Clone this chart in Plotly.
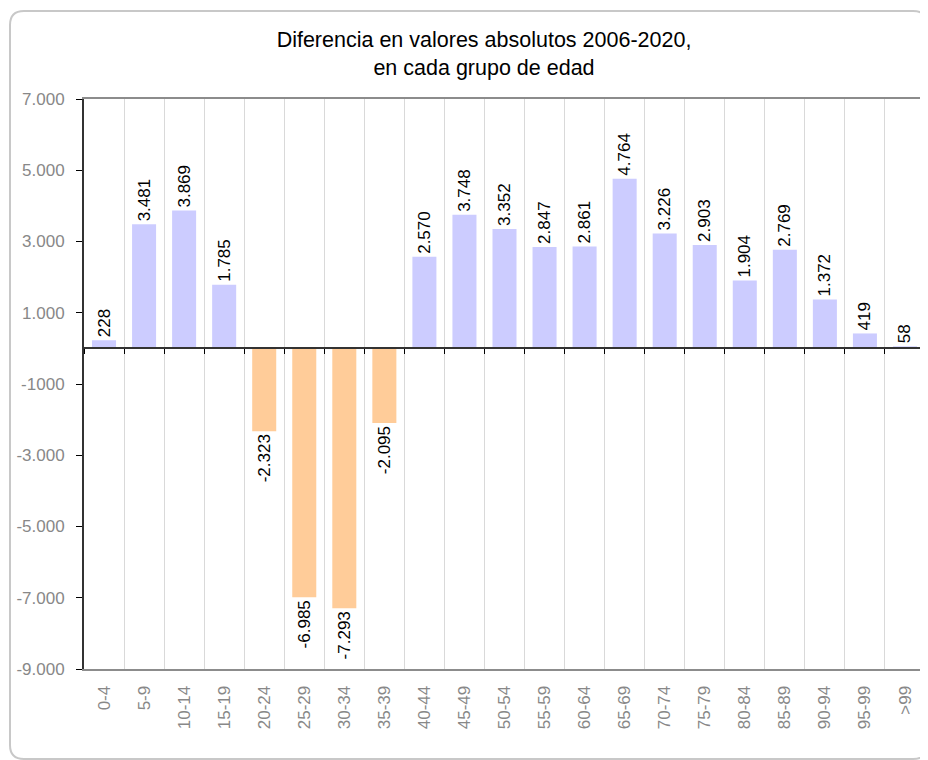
import plotly.graph_objects as go

categories = ["0-4", "5-9", "10-14", "15-19", "20-24", "25-29", "30-34", "35-39",
              "40-44", "45-49", "50-54", "55-59", "60-64", "65-69", "70-74", "75-79",
              "80-84", "85-89", "90-94", "95-99", ">99"]
values = [228, 3481, 3869, 1785, -2323, -6985, -7293, -2095, 2570, 3748, 3352,
          2847, 2861, 4764, 3226, 2903, 1904, 2769, 1372, 419, 58]
y_tickvals = [7000, 5000, 3000, 1000, -1000, -3000, -5000, -7000, -9000]
y_ticktext = ["7.000", "5.000", "3.000", "1.000", "-1000", "-3.000", "-5.000", "-7.000", "-9.000"]
title_text = "Diferencia en valores absolutos 2006-2020,<br>en cada grupo de edad"

POS_COLOR = "#ccccff"
NEG_COLOR = "#ffcc99"
labels = [f"{v:,}".replace(",", ".") for v in values]
colors = [POS_COLOR if v >= 0 else NEG_COLOR for v in values]

# page body has an 8px margin: figure coordinates = screen - 8
OFF = 8
W, H = 928 - OFF, 760 - OFF
L, R, T, B = 84 - OFF, 925 - OFF, 99 - OFF, 669 - OFF
FONT = "Liberation Sans, Arial, sans-serif"

fig = go.Figure()
fig.add_trace(go.Bar(
    x=categories, y=values, marker=dict(color=colors, line=dict(width=0)),
    width=0.6, text=labels, textposition="outside", textangle=-90,
    textfont=dict(family=FONT, size=17, color="#000000"),
    constraintext="none", cliponaxis=False, hoverinfo="x+y", showlegend=False,
))
# invisible trace for the zero-line axis carrying the boundary ticks
fig.add_trace(go.Scatter(
    x=categories, y=values, xaxis="x2", yaxis="y", mode="markers",
    marker=dict(opacity=0), hoverinfo="skip", showlegend=False,
))

y0, y1 = -9000, 7000
zero_pos = (0 - y0) / (y1 - y0)

# outer rounded frame (paper coordinates relative to the plot area)
pw, ph = R - L, B - T
def px(x):
    return (x - OFF - L) / pw
def py(y):
    return (B - (y - OFF)) / ph
fl, ft, fr, fb, rad = 10, 11, 927, 759, 14
rx, ry = rad / pw, rad / ph
path = (f"M {px(fl)+rx},{py(ft)} L {px(fr)-rx},{py(ft)} Q {px(fr)},{py(ft)} {px(fr)},{py(ft)-ry} "
        f"L {px(fr)},{py(fb)+ry} Q {px(fr)},{py(fb)} {px(fr)-rx},{py(fb)} "
        f"L {px(fl)+rx},{py(fb)} Q {px(fl)},{py(fb)} {px(fl)},{py(fb)+ry} "
        f"L {px(fl)},{py(ft)-ry} Q {px(fl)},{py(ft)} {px(fl)+rx},{py(ft)} Z")

fig.update_layout(
    width=W, height=H,
    margin=dict(l=L, r=W - R, t=T, b=H - B, pad=0),
    paper_bgcolor="white", plot_bgcolor="white",
    font=dict(family=FONT, color="#000000"),
    title=dict(text=title_text, x=(484 - OFF) / W, xanchor="center", xref="container",
               y=1 - 39 / H, yanchor="top", yref="container",
               font=dict(family=FONT, size=21.5, color="#000000")),
    bargap=0.4,
    xaxis=dict(
        type="category", categoryorder="array", categoryarray=categories,
        range=[-0.5, len(categories) - 0.5],
        tickson="boundaries", showgrid=True, gridcolor="#d9d9d9", gridwidth=1,
        ticks="", tickangle=-90, ticklabelstandoff=8,
        tickfont=dict(family=FONT, size=17, color="#888888"),
        showline=True, linecolor="#8c8c8c", linewidth=2, mirror=True,
        zeroline=False, fixedrange=True,
    ),
    xaxis2=dict(
        type="category", categoryorder="array", categoryarray=categories,
        range=[-0.5, len(categories) - 0.5],
        overlaying="x", anchor="free", position=zero_pos, side="bottom",
        tickson="boundaries", ticks="outside", ticklen=5, tickwidth=1, tickcolor="#000000",
        showticklabels=False, showgrid=False, showline=True, linecolor="#333333",
        linewidth=1.5, zeroline=False,
    ),
    yaxis=dict(
        range=[y0, y1], tickvals=y_tickvals, ticktext=y_ticktext,
        ticks="outside", ticklen=6, tickcolor="#000000", tickwidth=1,
        ticklabelstandoff=8,
        tickfont=dict(family=FONT, size=17, color="#888888"),
        showgrid=False, zeroline=False,
        showline=True, linecolor="#333333", linewidth=2,
    ),
    shapes=[
        dict(type="line", xref="x domain", yref="y domain", x0=1, x1=1, y0=0, y1=1,
             line=dict(color="#8c8c8c", width=2), layer="above"),
        dict(type="path", xref="paper", yref="paper", path=path,
             line=dict(color="#c8c8c8", width=2), fillcolor="rgba(0,0,0,0)", layer="below"),
    ],
)

fig.write_html("out.html")
